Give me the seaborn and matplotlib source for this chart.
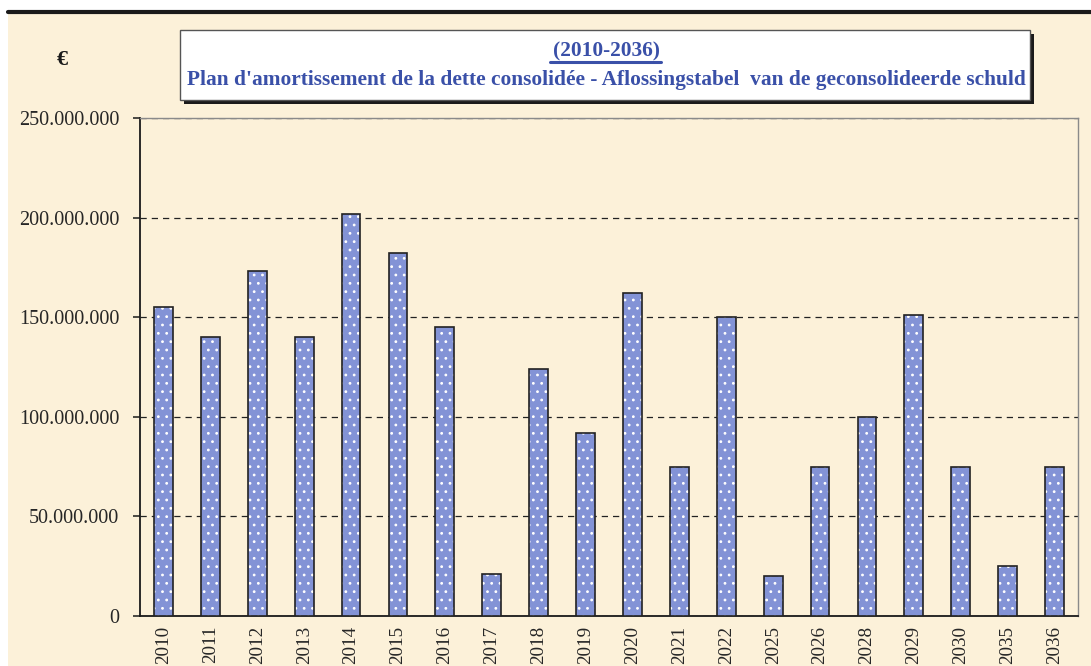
import numpy as np
import pandas as pd
import seaborn as sns
import matplotlib.pyplot as plt
from matplotlib.patches import Rectangle
from matplotlib.lines import Line2D
from matplotlib.ticker import FuncFormatter, MultipleLocator

years = ['2010', '2011', '2012', '2013', '2014', '2015', '2016', '2017', '2018', '2019',
         '2020', '2021', '2022', '2025', '2026', '2028', '2029', '2030', '2035', '2036']
amounts = [155e6, 140e6, 173e6, 140e6, 202e6, 182e6, 145e6, 21e6, 124e6, 92e6,
           162e6, 75e6, 150e6, 20e6, 75e6, 100e6, 151e6, 75e6, 25e6, 75e6]

df = pd.DataFrame({'year': years, 'amount': amounts})

sns.set_style('white')
plt.rcParams['font.family'] = ['Liberation Serif', 'DejaVu Serif']
plt.rcParams['hatch.linewidth'] = 0.8

W, H = 1091, 666
fig = plt.figure(figsize=(W / 100, H / 100), dpi=100)
fig.patch.set_facecolor('white')

# parchment background + top rule
fig.add_artist(Rectangle((8 / W, 0), 1, (H - 12) / H, transform=fig.transFigure,
                         facecolor='#FCF1D9', edgecolor='none', zorder=0))
fig.add_artist(Line2D([8 / W, 1], [(H - 12) / H] * 2, color='#1a1a1a', lw=3))

ax = fig.add_axes([140 / W, 50 / H, 938 / W, 498 / H])
ax.patch.set_alpha(0)

sns.barplot(data=df, x='year', y='amount', color='#8393D6', saturation=1, width=0.4,
            edgecolor='white', linewidth=0, hatch='..', ax=ax, zorder=3)
sns.barplot(data=df, x='year', y='amount', color='#222222', fill=False, width=0.4,
            linewidth=1.2, ax=ax, zorder=4)

ax.set_ylim(0, 250e6)
ax.set_xlim(-0.5, len(years) - 0.5)
ax.yaxis.set_major_locator(MultipleLocator(50e6))
ax.yaxis.set_major_formatter(FuncFormatter(lambda v, p: f"{int(v):,}".replace(',', '.')))
ax.set_xlabel('')
ax.set_ylabel('')

ax.yaxis.grid(True, linestyle=(0, (5, 4)), color='#222222', lw=0.9, zorder=1)
gl = ax.get_ygridlines()
gl[0].set_visible(False)
gl[-1].set_visible(False)

for s in ['top', 'right']:
    ax.spines[s].set_color('#8a8a8a')
    ax.spines[s].set_linewidth(1)
for s in ['left', 'bottom']:
    ax.spines[s].set_color('#1a1a1a')
    ax.spines[s].set_linewidth(1.3)

ax.set_xticks(np.arange(-0.5, len(years), 1), minor=True)
ax.tick_params(axis='x', which='major', length=0, pad=7, labelsize=13.8, rotation=90)
ax.tick_params(axis='x', which='minor', direction='inout', length=12, width=1.1, color='#1a1a1a')
ax.tick_params(axis='y', which='major', direction='out', length=5, width=1.1, color='#1a1a1a',
               pad=10, labelsize=14.5, left=True)

# title box with shadow
fig.add_artist(Rectangle((184 / W, (H - 104) / H), 850 / W, 70 / H, transform=fig.transFigure,
                         facecolor='#1a1a1a', edgecolor='none', zorder=5))
fig.add_artist(Rectangle((180 / W, (H - 100) / H), 850 / W, 70 / H, transform=fig.transFigure,
                         facecolor='white', edgecolor='#555555', lw=1, zorder=6))
blue = '#3A50A8'
fig.text(606 / W, (H - 51) / H, '(2010-2036)', ha='center', va='center', color=blue,
         fontsize=15.4, fontweight='bold', zorder=7)
fig.add_artist(Line2D([550 / W, 661 / W], [(H - 62) / H] * 2, color=blue, lw=2.2, zorder=7))
fig.text(606 / W, (H - 80) / H,
         "Plan d'amortissement de la dette consolidée - Aflossingstabel  van de geconsolideerde schuld",
         ha='center', va='center', color=blue, fontsize=15.4, fontweight='bold', zorder=7)
fig.text(62 / W, (H - 60) / H, '€', ha='center', va='center', color='#1a1a1a',
         fontsize=16, fontweight='bold')

fig.savefig('out.png', dpi=100)
